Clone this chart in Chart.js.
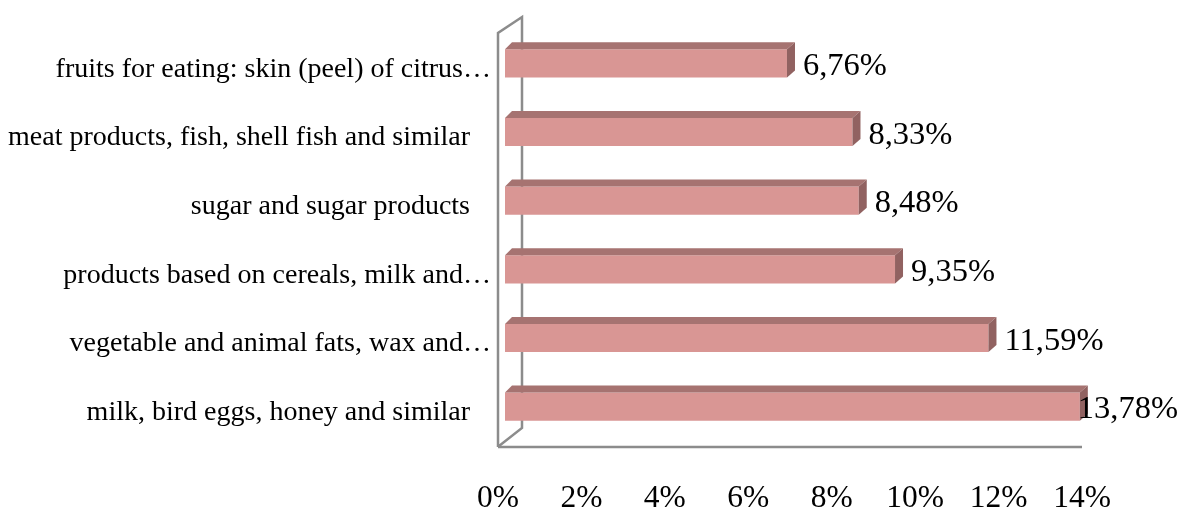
<!DOCTYPE html>
<html>
<head>
<meta charset="utf-8">
<script src="https://cdn.jsdelivr.net/npm/chart.js@4"></script>
<style>
  html, body { margin: 0; padding: 0; background: #fff; }
  #wrap { width: 1182px; height: 509px; }
</style>
</head>
<body>
<div id="wrap"><canvas id="char"></canvas></div>
<script>
// data (full labels keep excel's trailing blanks)
var categories = [
  "fruits for eating: skin (peel) of citrus\u2026",
  "meat products, fish, shell fish and similar   ",
  "sugar and sugar products   ",
  "products based on cereals, milk and\u2026",
  "vegetable and animal fats, wax and\u2026",
  "milk, bird eggs, honey and similar   "
];
var shares = [6.76, 8.33, 8.48, 9.35, 11.59, 13.78];
var axisMin = 0;
var axisMax = 14;
var axisStep = 2;

var frontColor = "rgb(217,150,148)";
var topColor = "rgb(166,115,113)";
var sideColor = "rgb(145,98,97)";
var wallColor = "#8c8c8c";

// fake 3d look, like the old excel chart
var box3d = {
  id: "box3d",
  beforeDatasetsDraw: function (chart) {
    var ctx = chart.ctx;
    var a = chart.chartArea;
    var xs = chart.scales.x;
    var end = xs.getPixelForValue(axisMax);
    ctx.save();
    ctx.strokeStyle = wallColor;
    ctx.lineWidth = 2.5;
    ctx.lineJoin = "miter";
    // wall
    ctx.beginPath();
    ctx.moveTo(a.left - 7, a.bottom + 6);
    ctx.lineTo(a.left - 7, a.top + 4);
    ctx.lineTo(a.left + 17, a.top - 12);
    ctx.lineTo(a.left + 17, a.bottom - 13);
    ctx.lineTo(a.left - 6, a.bottom + 5);
    ctx.stroke();
    // floor edge
    ctx.beginPath();
    ctx.moveTo(a.left - 7, a.bottom + 6);
    ctx.lineTo(end - 7, a.bottom + 6);
    ctx.stroke();
    ctx.restore();
  },
  afterDatasetsDraw: function (chart) {
    var ctx = chart.ctx;
    var meta = chart.getDatasetMeta(0);
    ctx.save();
    meta.data.forEach(function (bar, i) {
      var p = bar.getProps(["x", "y", "base", "height"], true);
      var t = p.y - p.height / 2;
      var b = p.y + p.height / 2;
      var x0 = p.base, x1 = p.x;
      ctx.fillStyle = topColor;
      ctx.beginPath();
      ctx.moveTo(x0, t);
      ctx.lineTo(x0 + 7, t - 7);
      ctx.lineTo(x1 + 8, t - 7);
      ctx.lineTo(x1, t);
      ctx.closePath();
      ctx.fill();
      ctx.fillStyle = sideColor;
      ctx.beginPath();
      ctx.moveTo(x1, t);
      ctx.lineTo(x1 + 8, t - 7);
      ctx.lineTo(x1 + 8, b - 7);
      ctx.lineTo(x1, b);
      ctx.closePath();
      ctx.fill();
    });
    // value labels
    ctx.font = "32.5px 'Liberation Serif'";
    ctx.fillStyle = "#000";
    ctx.textBaseline = "middle";
    ctx.textAlign = "left";
    meta.data.forEach(function (bar, i) {
      var txt = shares[i].toFixed(2).replace(".", ",") + "%";
      var w = ctx.measureText(txt).width;
      var lx = Math.min(bar.x + 16, chart.width - 4 - w);
      ctx.fillText(txt, lx, bar.y + 3);
    });
    ctx.restore();
  }
};

var ctx = document.getElementById("char").getContext("2d");
var myChart = new Chart(ctx, {
  type: "bar",
  data: {
    labels: categories,
    datasets: [
      {
        data: shares,
        backgroundColor: frontColor,
        borderWidth: 0,
        categoryPercentage: 1,
        barPercentage: 0.41
      }
    ]
  },
  options: {
    indexAxis: "y",
    responsive: true,
    maintainAspectRatio: false,
    animation: false,
    layout: { padding: { top: 29, right: 93, bottom: 0, left: 0 } },
    plugins: {
      legend: { display: false },
      tooltip: { enabled: false }
    },
    scales: {
      x: {
        min: axisMin,
        max: axisMax,
        grid: { display: false, drawTicks: false },
        border: { display: false },
        ticks: {
          stepSize: axisStep,
          padding: 39,
          labelOffset: -7,
          color: "#000",
          font: { family: "'Liberation Serif'", size: 31.5 },
          callback: function (v) { return v + "%"; }
        },
        afterFit: function (s) {
          s.height = 68;
          s.paddingLeft = 0;
          s.paddingRight = 0;
        }
      },
      y: {
        grid: { display: false, drawTicks: false },
        border: { display: false },
        ticks: {
          padding: 14,
          labelOffset: 6,
          color: "#000",
          font: { family: "'Liberation Serif'", size: 28 }
        },
        afterFit: function (s) {
          s.width = 505;
          s.paddingTop = 0;
          s.paddingBottom = 0;
        }
      }
    }
  },
  plugins: [box3d]
});
</script>
</body>
</html>
